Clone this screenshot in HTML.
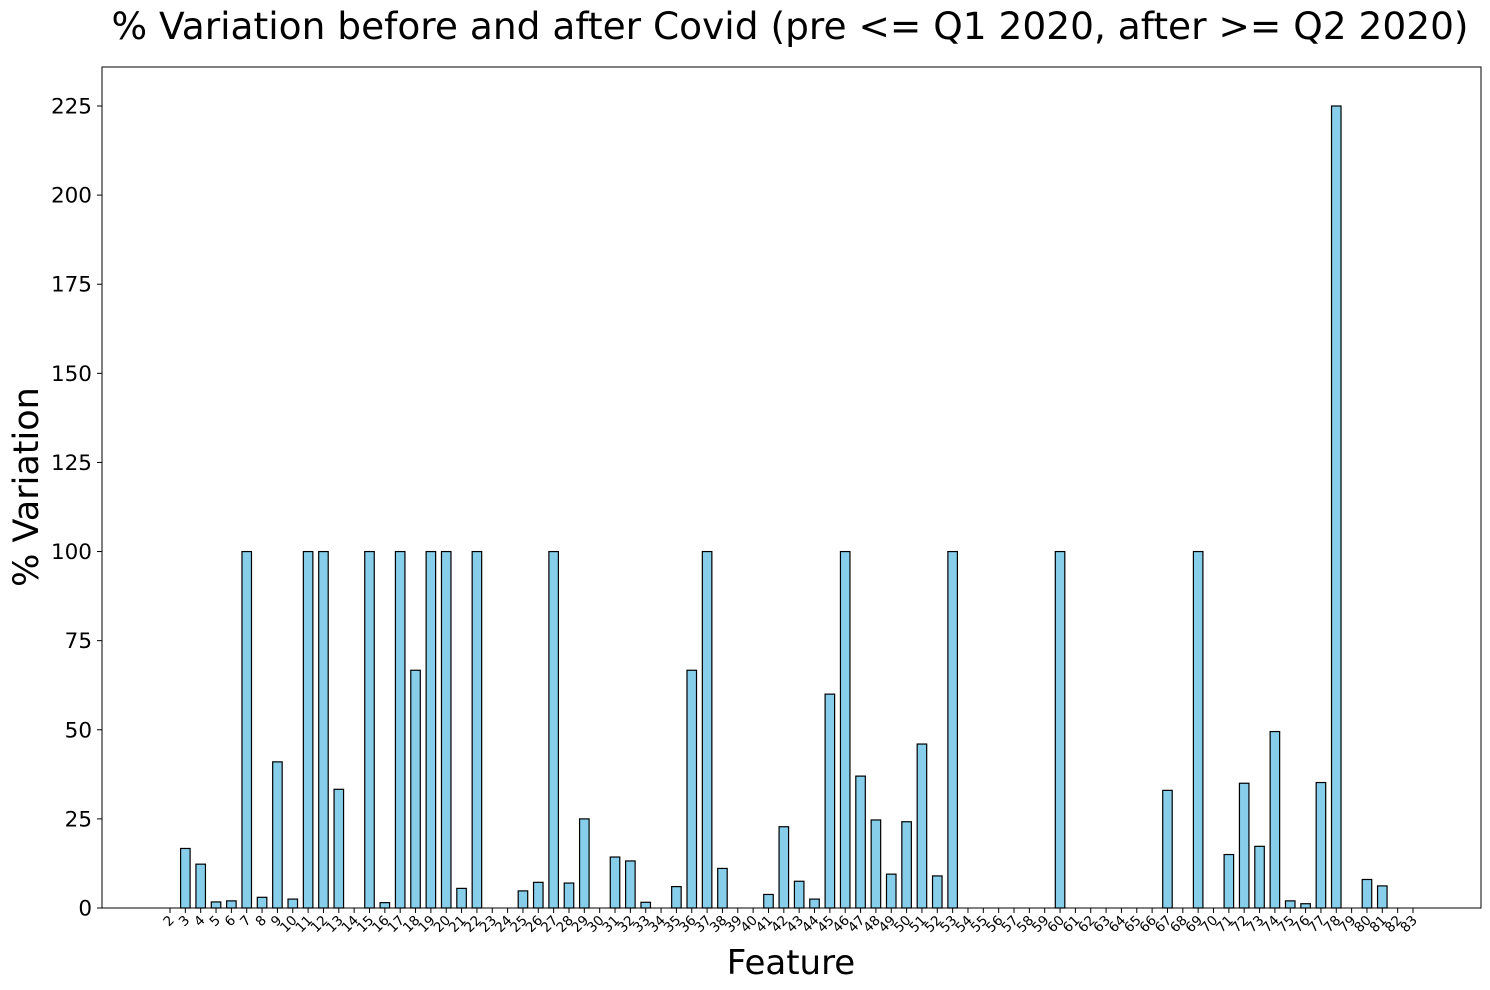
<!DOCTYPE html>
<html><head><meta charset="utf-8">
<style>
html,body{margin:0;padding:0;background:#fff;}
svg{display:block;font-family:"DejaVu Sans","Liberation Sans",sans-serif;}
</style></head>
<body>
<svg id="chart" width="1490" height="990" viewBox="0 0 1490 990" xmlns="http://www.w3.org/2000/svg">
<rect width="1490" height="990" fill="#fff"/>
<text x="790" y="39" text-anchor="middle" font-size="37.5" fill="#000">% Variation before and after Covid (pre &lt;= Q1 2020, after &gt;= Q2 2020)</text>
<text transform="translate(38,487) rotate(-90)" text-anchor="middle" font-size="35" fill="#000">% Variation</text>
<text x="791" y="974" text-anchor="middle" font-size="34" fill="#000">Feature</text>
<g id="bars"></g>
<g id="yticks"></g>
<g id="xticks"></g>
<rect x="102" y="67" width="1379" height="841" fill="none" stroke="#000" stroke-width="1"/>
</svg>
<script>
const categories = [];
for (let c = 2; c <= 83; c++) categories.push(String(c));
const values = [0,16.7,12.3,1.7,2,100,3,41,2.5,100,100,33.3,0,100,1.5,100,66.7,100,100,5.5,100,0,0,4.8,7.2,100,7,25,0,14.3,13.2,1.6,0,6,66.7,100,11.1,0,0,3.8,22.8,7.5,2.5,60,100,37,24.7,9.5,24.2,46,9,100,0,0,0,0,0,0,100,0,0,0,0,0,0,33,0,100,0,15,35,17.3,49.5,2,1.2,35.2,225,0,8,6.2,0,0];
const yTicks = [0,25,50,75,100,125,150,175,200,225];

const NS = "http://www.w3.org/2000/svg";
const x0 = 170, step = (1413 - 170) / 81, barW = step * 0.62;
const yBase = 908, yPer = (908 - 106) / 225;
function xScale(i){ return x0 + i * step; }
function yScale(v){ return yBase - v * yPer; }

const gb = document.getElementById('bars');
values.forEach((v, i) => {
  const r = document.createElementNS(NS, 'rect');
  const h = yBase - yScale(v);
  r.setAttribute('x', xScale(i) - barW / 2);
  r.setAttribute('y', yScale(v));
  r.setAttribute('width', barW);
  r.setAttribute('height', Math.max(h, 0));
  r.setAttribute('fill', '#87ceeb');
  r.setAttribute('stroke', '#000');
  r.setAttribute('stroke-width', '1.2');
  
  
  gb.appendChild(r);
});

const gy = document.getElementById('yticks');
yTicks.forEach(t => {
  const y = yScale(t);
  const l = document.createElementNS(NS, 'line');
  l.setAttribute('x1', 97); l.setAttribute('x2', 102);
  l.setAttribute('y1', y); l.setAttribute('y2', y);
  l.setAttribute('stroke', '#000');
  
  
  gy.appendChild(l);
  const tx = document.createElementNS(NS, 'text');
  tx.setAttribute('x', 92); tx.setAttribute('y', y + 7.5);
  tx.setAttribute('text-anchor', 'end');
  tx.setAttribute('font-size', '21.5');
  tx.textContent = t;
  
  
  gy.appendChild(tx);
});

const gx = document.getElementById('xticks');
categories.forEach((c, i) => {
  const x = xScale(i);
  const l = document.createElementNS(NS, 'line');
  l.setAttribute('x1', x); l.setAttribute('x2', x);
  l.setAttribute('y1', 908); l.setAttribute('y2', 913);
  l.setAttribute('stroke', '#000');
  
  
  gx.appendChild(l);
  const tx = document.createElementNS(NS, 'text');
  tx.setAttribute('transform', 'translate(' + (x + 5) + ',921) rotate(-45)');
  tx.setAttribute('text-anchor', 'end');
  tx.setAttribute('font-size', '13.5');
  tx.textContent = c;
  
  
  gx.appendChild(tx);
});
</script>
</body></html>
